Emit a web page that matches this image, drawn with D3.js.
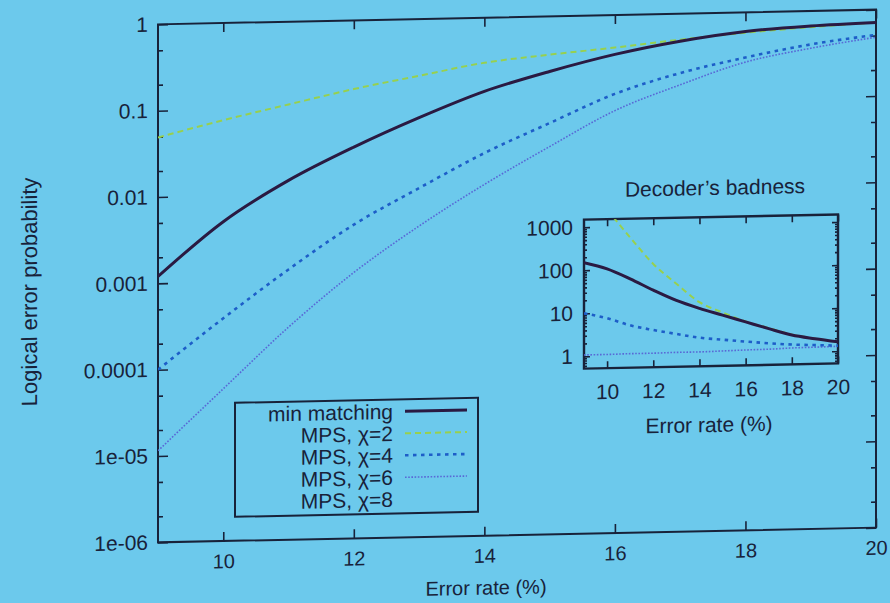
<!DOCTYPE html>
<html>
<head>
<meta charset="utf-8">
<script src="https://cdn.jsdelivr.net/npm/d3@7"></script>
<style>
  body { margin: 0; background: #6cc9ec; }
  svg { display: block; }
  text { font-family: "Liberation Sans", Arial, sans-serif; fill: #18223a; }
</style>
</head>
<body>
<svg id="chart" width="890" height="603"></svg>
<script>
// x values (error rate, %)
var errorRate = [9, 10, 11, 12, 13, 14, 15, 16, 17, 18, 19, 20];

// main chart: logical error probability
var minMatching = [0.0012, 0.005, 0.0145, 0.034, 0.072, 0.14, 0.23, 0.35, 0.48, 0.6, 0.67, 0.71];
var mpsChi2 = [0.049, 0.075, 0.11, 0.16, 0.22, 0.3, 0.36, 0.42, 0.5, 0.58, 0.65, 0.71];
var mpsChi4 = [0.0001, 0.00038, 0.00135, 0.0043, 0.011, 0.027, 0.058, 0.122, 0.205, 0.3, 0.41, 0.51];
var mpsChi6 = [0.0000115, 0.000058, 0.00029, 0.0012, 0.004, 0.0117, 0.031, 0.078, 0.15, 0.265, 0.37, 0.48];

// inset: decoder's badness
var badMin = [150, 105, 60, 32, 18, 11.5, 7.8, 5.3, 3.6, 2.5, 2.0, 1.65];
var badChi2 = [null, 2500, 550, 130, 44, 16, 9, 5.4, 3.7, 2.55, 2.0, 1.67];
var badChi4 = [10, 7.5, 5, 3.8, 3, 2.4, 2.1, 1.85, 1.65, 1.5, 1.42, 1.35];
var badChi6 = [1.08, 1.08, 1.1, 1.1, 1.12, 1.12, 1.15, 1.18, 1.2, 1.25, 1.27, 1.3];

// ticks and labels
var yTickValues = [1, 0.1, 0.01, 0.001, 0.0001, 0.00001, 0.000001];
var yTickLabels = ["1", "0.1", "0.01", "0.001", "0.0001", "1e-05", "1e-06"];
var xTickValues = [10, 12, 14, 16, 18, 20];
var insetYTicks = [1, 10, 100, 1000];
var legendLabels = ["min matching", "MPS, \u03c7=2", "MPS, \u03c7=4", "MPS, \u03c7=6", "MPS, \u03c7=8"];

// series styles (chi=8 has no visible line)
var styles = [
  { color: "#2a1a42", width: 3, dash: null },
  { color: "#97d04e", width: 2, dash: "6,4" },
  { color: "#1d5ec8", width: 2.6, dash: "3.5,4.5" },
  { color: "#5868d6", width: 1.6, dash: "1.6,1.6" },
  null
];

var svg = d3.select("#chart");
svg.append("rect").attr("width", 890).attr("height", 603).attr("fill", "#6cc9ec");

//The photo is slightly tilted: y drops to the left, so use a small vertical shear
var cx = 517, cy = 276;
var g = svg.append("g").attr("transform",
  "translate(" + cx + "," + cy + ") matrix(1,-0.0205,0,1,0,0) translate(" + (-cx) + "," + (-cy) + ")");

//Main plot area
var L = 158, R = 876, T = 17, B = 535;
var x = d3.scaleLinear().domain([9, 20]).range([L, R]);
var y = d3.scaleLog().domain([1e-6, 1]).range([B, T]);

var minorY = [];
yTickValues.forEach(function(v){
  if (v > 1e-6) { minorY.push(v * 0.5); minorY.push(v * 0.2); }
});

var ink = "#18223a";

function styleAxis(sel, size){
  sel.select(".domain").remove();
  sel.selectAll("line").attr("stroke", ink).attr("stroke-width", 1.6);
  sel.selectAll("text").style("font-size", size + "px").attr("fill", ink);
}

//left axis with labels
g.append("g").attr("transform", "translate(" + L + ",0)")
  .call(d3.axisLeft(y).tickValues(yTickValues).tickSize(-10).tickPadding(10)
    .tickFormat(function(d, i){ return yTickLabels[i]; }))
  .call(styleAxis, 21);
g.append("g").attr("transform", "translate(" + L + ",0)")
  .call(d3.axisLeft(y).tickValues(minorY).tickSize(-5).tickFormat(""))
  .call(styleAxis, 21);
//right mirror ticks
g.append("g").attr("transform", "translate(" + R + ",0)")
  .call(d3.axisRight(y).tickValues(yTickValues).tickSize(-10).tickFormat(""))
  .call(styleAxis, 21);
g.append("g").attr("transform", "translate(" + R + ",0)")
  .call(d3.axisRight(y).tickValues(minorY).tickSize(-5).tickFormat(""))
  .call(styleAxis, 21);
//bottom axis with labels
g.append("g").attr("transform", "translate(0," + B + ")")
  .call(d3.axisBottom(x).tickValues(xTickValues).tickSize(-9).tickPadding(13).tickFormat(d3.format("d")))
  .call(styleAxis, 20);
//top mirror ticks
g.append("g").attr("transform", "translate(0," + T + ")")
  .call(d3.axisTop(x).tickValues(xTickValues).tickSize(-9).tickFormat(""))
  .call(styleAxis, 20);

//Frame
g.append("rect").attr("x", L).attr("y", T).attr("width", R - L).attr("height", B - T)
  .attr("fill", "none").attr("stroke", ink).attr("stroke-width", 2);

//Clip for curves
g.append("clipPath").attr("id", "mainClip").append("rect")
  .attr("x", L).attr("y", T).attr("width", R - L).attr("height", B - T);

var mainLine = d3.line()
  .defined(function(d){ return d[1] != null; })
  .x(function(d){ return x(d[0]); })
  .y(function(d){ return y(d[1]); })
  .curve(d3.curveMonotoneX);

var mainSeries = [minMatching, mpsChi2, mpsChi4, mpsChi6];
var mainHolder = g.append("g").attr("clip-path", "url(#mainClip)");
//draw from the back so min matching sits on top
[3, 2, 1, 0].forEach(function(i){
  var pts = errorRate.map(function(e, j){ return [e, mainSeries[i][j]]; });
  mainHolder.append("path")
    .attr("d", mainLine(pts))
    .attr("fill", "none")
    .attr("stroke", styles[i].color)
    .attr("stroke-width", styles[i].width)
    .attr("stroke-dasharray", styles[i].dash);
});

//Axis titles
g.append("text")
  .attr("transform", "translate(37,282) rotate(-90)")
  .attr("text-anchor", "middle")
  .style("font-size", "22px")
  .text("Logical error probability");
g.append("text")
  .attr("x", 486).attr("y", 594)
  .attr("text-anchor", "middle")
  .style("font-size", "20px")
  .text("Error rate (%)");

//Legend
var legX = 235, legY = 397, legW = 243, legH = 114;
g.append("rect").attr("x", legX).attr("y", legY).attr("width", legW).attr("height", legH)
  .attr("fill", "none").attr("stroke", ink).attr("stroke-width", 2);
legendLabels.forEach(function(label, i){
  var ry = 409 + i * 22;
  g.append("text")
    .attr("x", 393).attr("y", ry).attr("dy", "0.35em")
    .attr("text-anchor", "end")
    .style("font-size", "21px")
    .text(label);
  if (styles[i]) {
    g.append("line")
      .attr("x1", 405).attr("x2", 467).attr("y1", ry).attr("y2", ry)
      .attr("stroke", styles[i].color)
      .attr("stroke-width", styles[i].width)
      .attr("stroke-dasharray", styles[i].dash);
  }
});

//Inset: decoder's badness
var iL = 584, iR = 838, iT = 221, iB = 370;
var ix = d3.scaleLinear().domain([9, 20]).range([iL, iR]);
var iy = d3.scaleLog().domain([0.52, 1500]).range([iB, iT]);

var insetMinor = [];
[0.1, 1, 10, 100, 1000].forEach(function(dec){
  for (var k = 2; k <= 9; k++) {
    var v = dec * k;
    if (v > 0.52 && v < 1500) insetMinor.push(v);
  }
});

g.append("g").attr("transform", "translate(" + iL + ",0)")
  .call(d3.axisLeft(iy).tickValues(insetYTicks).tickSize(-6).tickPadding(11).tickFormat(d3.format("d")))
  .call(styleAxis, 21);
g.append("g").attr("transform", "translate(" + iL + ",0)")
  .call(d3.axisLeft(iy).tickValues(insetMinor).tickSize(-3).tickFormat(""))
  .call(styleAxis, 21);
g.append("g").attr("transform", "translate(" + iR + ",0)")
  .call(d3.axisRight(iy).tickValues(insetYTicks).tickSize(-6).tickFormat(""))
  .call(styleAxis, 21);
g.append("g").attr("transform", "translate(" + iR + ",0)")
  .call(d3.axisRight(iy).tickValues(insetMinor).tickSize(-3).tickFormat(""))
  .call(styleAxis, 21);
g.append("g").attr("transform", "translate(0," + iB + ")")
  .call(d3.axisBottom(ix).tickValues(xTickValues).tickSize(-7).tickPadding(16).tickFormat(d3.format("d")))
  .call(styleAxis, 21);
g.append("g").attr("transform", "translate(0," + iT + ")")
  .call(d3.axisTop(ix).tickValues(xTickValues).tickSize(-7).tickFormat(""))
  .call(styleAxis, 21);

g.append("rect").attr("x", iL).attr("y", iT).attr("width", iR - iL).attr("height", iB - iT)
  .attr("fill", "none").attr("stroke", ink).attr("stroke-width", 2.4);

g.append("clipPath").attr("id", "insetClip").append("rect")
  .attr("x", iL).attr("y", iT).attr("width", iR - iL).attr("height", iB - iT);

var insetLine = d3.line()
  .defined(function(d){ return d[1] != null; })
  .x(function(d){ return ix(d[0]); })
  .y(function(d){ return iy(d[1]); })
  .curve(d3.curveMonotoneX);

var insetSeries = [badMin, badChi2, badChi4, badChi6];
var insetHolder = g.append("g").attr("clip-path", "url(#insetClip)");
[3, 2, 1, 0].forEach(function(i){
  var pts = errorRate.map(function(e, j){ return [e, insetSeries[i][j]]; });
  insetHolder.append("path")
    .attr("d", insetLine(pts))
    .attr("fill", "none")
    .attr("stroke", styles[i].color)
    .attr("stroke-width", styles[i].width)
    .attr("stroke-dasharray", styles[i].dash);
});

g.append("text")
  .attr("x", 715).attr("y", 199)
  .attr("text-anchor", "middle")
  .style("font-size", "21px")
  .text("Decoder\u2019s badness");
g.append("text")
  .attr("x", 709).attr("y", 436)
  .attr("text-anchor", "middle")
  .style("font-size", "21px")
  .text("Error rate (%)");
</script>
</body>
</html>
